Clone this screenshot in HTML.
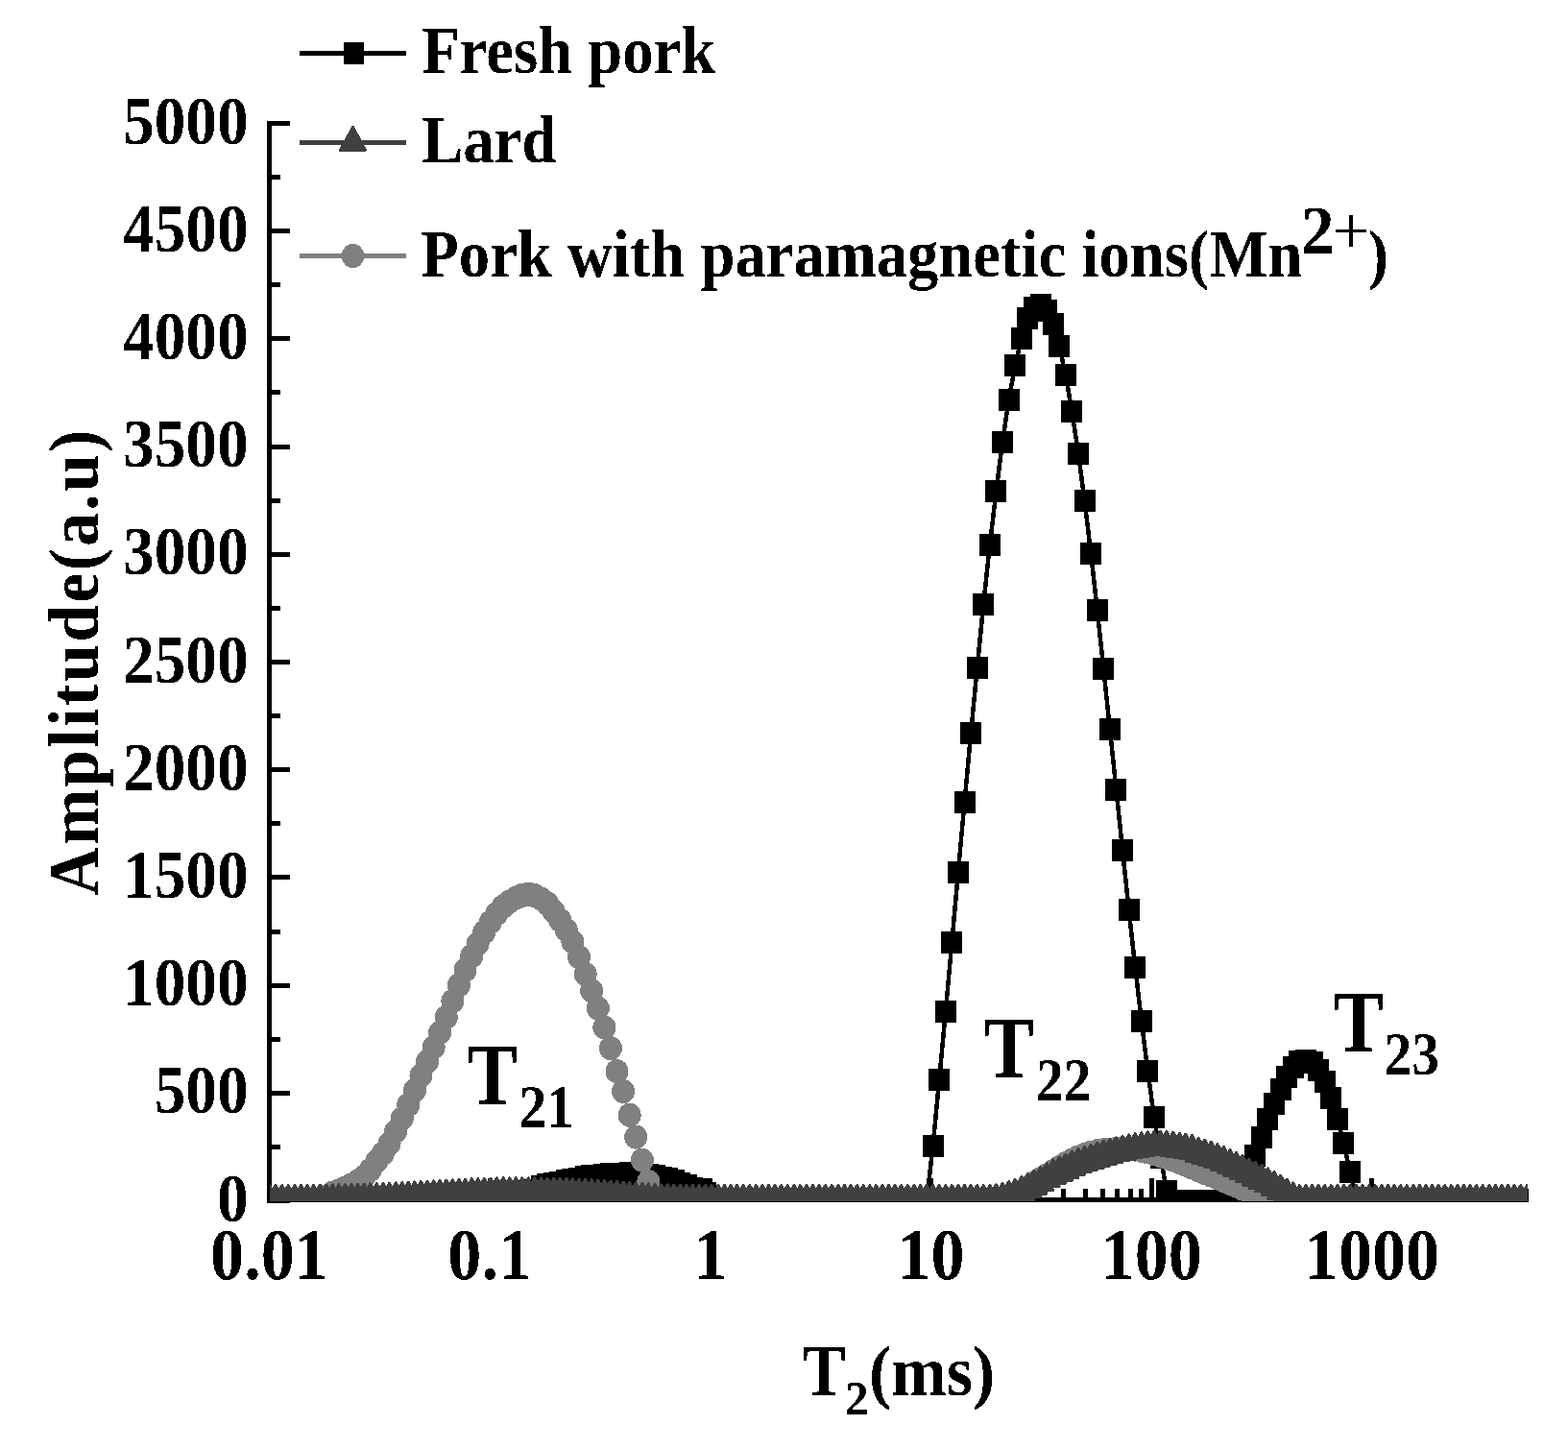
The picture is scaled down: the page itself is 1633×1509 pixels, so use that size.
<!DOCTYPE html>
<html><head><meta charset="utf-8"><title>T2 relaxation spectra</title>
<style>html,body{margin:0;padding:0;background:#fff;overflow:hidden}svg{display:block}text{font-family:"Liberation Serif",serif;font-weight:bold;fill:#000}</style></head><body>
<svg width="1633" height="1509" viewBox="0 0 1633 1509">
<rect width="1633" height="1509" fill="#fff"/>
<defs><clipPath id="cp"><rect x="281" y="0" width="1310" height="1251"/></clipPath><filter id="th" x="-5%" y="-5%" width="110%" height="110%" color-interpolation-filters="sRGB"><feComponentTransfer><feFuncA type="discrete" tableValues="0 1"/></feComponentTransfer></filter></defs>
<g fill="#000" shape-rendering="crispEdges">
<rect x="278" y="126" width="5" height="1126"/>
<rect x="278" y="1247" width="1314" height="5"/>
<rect x="278" y="126" width="24" height="5"/>
<rect x="278" y="182" width="14" height="5"/>
<rect x="278" y="238" width="24" height="5"/>
<rect x="278" y="294" width="14" height="5"/>
<rect x="278" y="350" width="24" height="5"/>
<rect x="278" y="406" width="14" height="5"/>
<rect x="278" y="463" width="24" height="5"/>
<rect x="278" y="519" width="14" height="5"/>
<rect x="278" y="575" width="24" height="5"/>
<rect x="278" y="631" width="14" height="5"/>
<rect x="278" y="687" width="24" height="5"/>
<rect x="278" y="743" width="14" height="5"/>
<rect x="278" y="799" width="24" height="5"/>
<rect x="278" y="855" width="14" height="5"/>
<rect x="278" y="911" width="24" height="5"/>
<rect x="278" y="968" width="14" height="5"/>
<rect x="278" y="1024" width="24" height="5"/>
<rect x="278" y="1080" width="14" height="5"/>
<rect x="278" y="1136" width="24" height="5"/>
<rect x="278" y="1192" width="14" height="5"/>
<rect x="278" y="1248" width="24" height="5"/>
<rect x="347" y="1238" width="5" height="14"/>
<rect x="388" y="1238" width="5" height="14"/>
<rect x="416" y="1238" width="5" height="14"/>
<rect x="439" y="1238" width="5" height="14"/>
<rect x="457" y="1238" width="5" height="14"/>
<rect x="472" y="1238" width="5" height="14"/>
<rect x="485" y="1238" width="5" height="14"/>
<rect x="497" y="1238" width="5" height="14"/>
<rect x="508" y="1227" width="5" height="25"/>
<rect x="577" y="1238" width="5" height="14"/>
<rect x="617" y="1238" width="5" height="14"/>
<rect x="646" y="1238" width="5" height="14"/>
<rect x="668" y="1238" width="5" height="14"/>
<rect x="686" y="1238" width="5" height="14"/>
<rect x="702" y="1238" width="5" height="14"/>
<rect x="715" y="1238" width="5" height="14"/>
<rect x="727" y="1238" width="5" height="14"/>
<rect x="737" y="1227" width="5" height="25"/>
<rect x="807" y="1238" width="5" height="14"/>
<rect x="847" y="1238" width="5" height="14"/>
<rect x="876" y="1238" width="5" height="14"/>
<rect x="898" y="1238" width="5" height="14"/>
<rect x="916" y="1238" width="5" height="14"/>
<rect x="932" y="1238" width="5" height="14"/>
<rect x="945" y="1238" width="5" height="14"/>
<rect x="957" y="1238" width="5" height="14"/>
<rect x="967" y="1227" width="5" height="25"/>
<rect x="1036" y="1238" width="5" height="14"/>
<rect x="1077" y="1238" width="5" height="14"/>
<rect x="1105" y="1238" width="5" height="14"/>
<rect x="1128" y="1238" width="5" height="14"/>
<rect x="1146" y="1238" width="5" height="14"/>
<rect x="1161" y="1238" width="5" height="14"/>
<rect x="1175" y="1238" width="5" height="14"/>
<rect x="1186" y="1238" width="5" height="14"/>
<rect x="1197" y="1227" width="5" height="25"/>
<rect x="1266" y="1238" width="5" height="14"/>
<rect x="1306" y="1238" width="5" height="14"/>
<rect x="1335" y="1238" width="5" height="14"/>
<rect x="1357" y="1238" width="5" height="14"/>
<rect x="1376" y="1238" width="5" height="14"/>
<rect x="1391" y="1238" width="5" height="14"/>
<rect x="1404" y="1238" width="5" height="14"/>
<rect x="1416" y="1238" width="5" height="14"/>
<rect x="1426" y="1227" width="5" height="25"/>
<rect x="1496" y="1238" width="5" height="14"/>
<rect x="1536" y="1238" width="5" height="14"/>
<rect x="1565" y="1238" width="5" height="14"/>
<rect x="1587" y="1238" width="5" height="14"/>
</g>
<g clip-path="url(#cp)" shape-rendering="crispEdges">
<polyline points="280.5,1250.5 287.08,1250.5 293.66,1250.5 300.25,1250.5 306.83,1250.5 313.41,1250.5 319.99,1250.5 326.57,1250.5 333.16,1250.5 339.74,1250.5 346.32,1250.5 352.9,1250.5 359.48,1250.5 366.07,1250.5 372.65,1250.5 379.23,1250.5 385.81,1250.5 392.39,1250.5 398.98,1250.5 405.56,1250.5 412.14,1250.5 418.72,1250.5 425.3,1250.5 431.89,1250.5 438.47,1250.5 445.05,1250.5 451.63,1250.5 458.21,1250.5 464.8,1250.5 471.38,1250.5 477.96,1250.31 484.54,1249.94 491.12,1249.43 497.71,1248.8 504.29,1248.07 510.87,1247.24 517.45,1246.33 524.03,1245.34 530.62,1244.27 537.2,1243.13 543.78,1241.91 550.36,1240.63 556.94,1239.28 563.53,1235.8 570.11,1233.69 576.69,1232.79 583.27,1231.49 589.85,1229.41 596.44,1228.8 603.02,1227.61 609.6,1225.7 616.18,1224.49 622.76,1224.2 629.35,1223.59 635.93,1222.49 642.51,1222.29 649.09,1222.29 655.67,1221.6 662.26,1221.4 668.84,1222.23 675.42,1223.57 682,1224.69 688.58,1226.49 695.17,1227.61 701.75,1229.63 708.33,1232.32 714.91,1234.57 721.49,1237.26 728.08,1238.61 734.66,1242.87 741.24,1250.5 747.82,1250.5 754.4,1250.5 760.99,1250.5 767.57,1250.5 774.15,1250.5 780.73,1250.5 787.31,1250.5 793.9,1250.5 800.48,1250.5 807.06,1250.5 813.64,1250.5 820.22,1250.5 826.81,1250.5 833.39,1250.5 839.97,1250.5 846.55,1250.5 853.13,1250.5 859.72,1250.5 866.3,1250.5 872.88,1250.5 879.46,1250.5 886.04,1250.5 892.63,1250.5 899.21,1250.5 905.79,1250.5 912.37,1250.5 918.95,1250.5 925.54,1250.5 932.12,1250.5 938.7,1250.5 945.28,1250.5 951.86,1250.5 958.45,1250.5 965.03,1250.5 971.61,1193.5 978.19,1124.5 984.77,1053.5 991.36,981.4 997.94,908 1004.52,835.4 1011.1,763.9 1017.68,695.5 1024.27,629.4 1030.85,567.5 1037.43,511.5 1044.01,460.5 1050.59,416.5 1057.18,380.6 1063.76,352.6 1070.34,331.6 1076.92,320.3 1083.5,317.5 1090.09,323.4 1096.67,337.5 1103.25,360.5 1109.83,390.6 1116.41,428.6 1123,472 1129.58,521.6 1136.16,576.5 1142.74,635.5 1149.32,696.5 1155.91,759.5 1162.49,822.4 1169.07,885.4 1175.65,947.5 1182.23,1007 1188.82,1063.5 1195.4,1115.6 1201.98,1163.5 1208.56,1205 1215.14,1240.6 1221.73,1250.5 1228.31,1250.5 1234.89,1250.5 1241.47,1250.5 1248.05,1250.5 1254.64,1250.5 1261.22,1250.5 1267.8,1250.5 1274.38,1250.5 1280.96,1250.5 1287.55,1248.5 1294.13,1241 1300.71,1226 1307.29,1203.8 1313.87,1184.6 1320.46,1165.7 1327.04,1149.6 1333.62,1134.7 1340.2,1121.5 1346.78,1111.6 1353.37,1105.4 1359.95,1104.3 1366.53,1106.6 1373.11,1114.4 1379.69,1126.5 1386.28,1143.5 1392.86,1165.7 1399.44,1190.6 1406.02,1220.4 1412.6,1247.5 1419.19,1250.5 1425.77,1250.5 1432.35,1250.5 1438.93,1250.5 1445.51,1250.5 1452.1,1250.5 1458.68,1250.5 1465.26,1250.5 1471.84,1250.5 1478.42,1250.5 1485.01,1250.5 1491.59,1250.5 1498.17,1250.5 1504.75,1250.5 1511.33,1250.5 1517.92,1250.5 1524.5,1250.5 1531.08,1250.5 1537.66,1250.5 1544.24,1250.5 1550.83,1250.5 1557.41,1250.5 1563.99,1250.5 1570.57,1250.5 1577.15,1250.5 1583.74,1250.5 1590.32,1250.5" fill="none" stroke="#000" stroke-width="4.5" stroke-linejoin="round"/>
<path d="M269.5 1239h22v23h-22zM276.08 1239h22v23h-22zM282.66 1239h22v23h-22zM289.25 1239h22v23h-22zM295.83 1239h22v23h-22zM302.41 1239h22v23h-22zM308.99 1239h22v23h-22zM315.57 1239h22v23h-22zM322.16 1239h22v23h-22zM328.74 1239h22v23h-22zM335.32 1239h22v23h-22zM341.9 1239h22v23h-22zM348.48 1239h22v23h-22zM355.07 1239h22v23h-22zM361.65 1239h22v23h-22zM368.23 1239h22v23h-22zM374.81 1239h22v23h-22zM381.39 1239h22v23h-22zM387.98 1239h22v23h-22zM394.56 1239h22v23h-22zM401.14 1239h22v23h-22zM407.72 1239h22v23h-22zM414.3 1239h22v23h-22zM420.89 1239h22v23h-22zM427.47 1239h22v23h-22zM434.05 1239h22v23h-22zM440.63 1239h22v23h-22zM447.21 1239h22v23h-22zM453.8 1239h22v23h-22zM460.38 1239h22v23h-22zM466.96 1238.81h22v23h-22zM473.54 1238.44h22v23h-22zM480.12 1237.93h22v23h-22zM486.71 1237.3h22v23h-22zM493.29 1236.57h22v23h-22zM499.87 1235.74h22v23h-22zM506.45 1234.83h22v23h-22zM513.03 1233.84h22v23h-22zM519.62 1232.77h22v23h-22zM526.2 1231.63h22v23h-22zM532.78 1230.41h22v23h-22zM539.36 1229.13h22v23h-22zM545.94 1227.78h22v23h-22zM552.53 1224.3h22v23h-22zM559.11 1222.19h22v23h-22zM565.69 1221.29h22v23h-22zM572.27 1219.99h22v23h-22zM578.85 1217.91h22v23h-22zM585.44 1217.3h22v23h-22zM592.02 1216.11h22v23h-22zM598.6 1214.2h22v23h-22zM605.18 1212.99h22v23h-22zM611.76 1212.7h22v23h-22zM618.35 1212.09h22v23h-22zM624.93 1210.99h22v23h-22zM631.51 1210.79h22v23h-22zM638.09 1210.79h22v23h-22zM644.67 1210.1h22v23h-22zM651.26 1209.9h22v23h-22zM657.84 1210.73h22v23h-22zM664.42 1212.07h22v23h-22zM671 1213.19h22v23h-22zM677.58 1214.99h22v23h-22zM684.17 1216.11h22v23h-22zM690.75 1218.13h22v23h-22zM697.33 1220.82h22v23h-22zM703.91 1223.07h22v23h-22zM710.49 1225.76h22v23h-22zM717.08 1227.11h22v23h-22zM723.66 1231.37h22v23h-22zM730.24 1239h22v23h-22zM736.82 1239h22v23h-22zM743.4 1239h22v23h-22zM749.99 1239h22v23h-22zM756.57 1239h22v23h-22zM763.15 1239h22v23h-22zM769.73 1239h22v23h-22zM776.31 1239h22v23h-22zM782.9 1239h22v23h-22zM789.48 1239h22v23h-22zM796.06 1239h22v23h-22zM802.64 1239h22v23h-22zM809.22 1239h22v23h-22zM815.81 1239h22v23h-22zM822.39 1239h22v23h-22zM828.97 1239h22v23h-22zM835.55 1239h22v23h-22zM842.13 1239h22v23h-22zM848.72 1239h22v23h-22zM855.3 1239h22v23h-22zM861.88 1239h22v23h-22zM868.46 1239h22v23h-22zM875.04 1239h22v23h-22zM881.63 1239h22v23h-22zM888.21 1239h22v23h-22zM894.79 1239h22v23h-22zM901.37 1239h22v23h-22zM907.95 1239h22v23h-22zM914.54 1239h22v23h-22zM921.12 1239h22v23h-22zM927.7 1239h22v23h-22zM934.28 1239h22v23h-22zM940.86 1239h22v23h-22zM947.45 1239h22v23h-22zM954.03 1239h22v23h-22zM960.61 1182h22v23h-22zM967.19 1113h22v23h-22zM973.77 1042h22v23h-22zM980.36 969.9h22v23h-22zM986.94 896.5h22v23h-22zM993.52 823.9h22v23h-22zM1000.1 752.4h22v23h-22zM1006.68 684h22v23h-22zM1013.27 617.9h22v23h-22zM1019.85 556h22v23h-22zM1026.43 500h22v23h-22zM1033.01 449h22v23h-22zM1039.59 405h22v23h-22zM1046.18 369.1h22v23h-22zM1052.76 341.1h22v23h-22zM1059.34 320.1h22v23h-22zM1065.92 308.8h22v23h-22zM1072.5 306h22v23h-22zM1079.09 311.9h22v23h-22zM1085.67 326h22v23h-22zM1092.25 349h22v23h-22zM1098.83 379.1h22v23h-22zM1105.41 417.1h22v23h-22zM1112 460.5h22v23h-22zM1118.58 510.1h22v23h-22zM1125.16 565h22v23h-22zM1131.74 624h22v23h-22zM1138.32 685h22v23h-22zM1144.91 748h22v23h-22zM1151.49 810.9h22v23h-22zM1158.07 873.9h22v23h-22zM1164.65 936h22v23h-22zM1171.23 995.5h22v23h-22zM1177.82 1052h22v23h-22zM1184.4 1104.1h22v23h-22zM1190.98 1152h22v23h-22zM1197.56 1193.5h22v23h-22zM1204.14 1229.1h22v23h-22zM1210.73 1239h22v23h-22zM1217.31 1239h22v23h-22zM1223.89 1239h22v23h-22zM1230.47 1239h22v23h-22zM1237.05 1239h22v23h-22zM1243.64 1239h22v23h-22zM1250.22 1239h22v23h-22zM1256.8 1239h22v23h-22zM1263.38 1239h22v23h-22zM1269.96 1239h22v23h-22zM1276.55 1237h22v23h-22zM1283.13 1229.5h22v23h-22zM1289.71 1214.5h22v23h-22zM1296.29 1192.3h22v23h-22zM1302.87 1173.1h22v23h-22zM1309.46 1154.2h22v23h-22zM1316.04 1138.1h22v23h-22zM1322.62 1123.2h22v23h-22zM1329.2 1110h22v23h-22zM1335.78 1100.1h22v23h-22zM1342.37 1093.9h22v23h-22zM1348.95 1092.8h22v23h-22zM1355.53 1095.1h22v23h-22zM1362.11 1102.9h22v23h-22zM1368.69 1115h22v23h-22zM1375.28 1132h22v23h-22zM1381.86 1154.2h22v23h-22zM1388.44 1179.1h22v23h-22zM1395.02 1208.9h22v23h-22zM1401.6 1236h22v23h-22zM1408.19 1239h22v23h-22zM1414.77 1239h22v23h-22zM1421.35 1239h22v23h-22zM1427.93 1239h22v23h-22zM1434.51 1239h22v23h-22zM1441.1 1239h22v23h-22zM1447.68 1239h22v23h-22zM1454.26 1239h22v23h-22zM1460.84 1239h22v23h-22zM1467.42 1239h22v23h-22zM1474.01 1239h22v23h-22zM1480.59 1239h22v23h-22zM1487.17 1239h22v23h-22zM1493.75 1239h22v23h-22zM1500.33 1239h22v23h-22zM1506.92 1239h22v23h-22zM1513.5 1239h22v23h-22zM1520.08 1239h22v23h-22zM1526.66 1239h22v23h-22zM1533.24 1239h22v23h-22zM1539.83 1239h22v23h-22zM1546.41 1239h22v23h-22zM1552.99 1239h22v23h-22zM1559.57 1239h22v23h-22zM1566.15 1239h22v23h-22zM1572.74 1239h22v23h-22zM1579.32 1239h22v23h-22z" fill="#000"/>
<g fill="#808080">
<ellipse cx="280.5" cy="1250.5" rx="12" ry="12.5"/>
<ellipse cx="287.08" cy="1250.5" rx="12" ry="12.5"/>
<ellipse cx="293.66" cy="1250.5" rx="12" ry="12.5"/>
<ellipse cx="300.25" cy="1250.5" rx="12" ry="12.5"/>
<ellipse cx="306.83" cy="1250.5" rx="12" ry="12.5"/>
<ellipse cx="313.41" cy="1250.5" rx="12" ry="12.5"/>
<ellipse cx="319.99" cy="1250.5" rx="12" ry="12.5"/>
<ellipse cx="326.57" cy="1250.11" rx="12" ry="12.5"/>
<ellipse cx="333.16" cy="1249.08" rx="12" ry="12.5"/>
<ellipse cx="339.74" cy="1246.05" rx="12" ry="12.5"/>
<ellipse cx="346.32" cy="1242.28" rx="12" ry="12.5"/>
<ellipse cx="352.9" cy="1239.86" rx="12" ry="12.5"/>
<ellipse cx="359.48" cy="1237.27" rx="12" ry="12.5"/>
<ellipse cx="366.07" cy="1233.9" rx="12" ry="12.5"/>
<ellipse cx="372.65" cy="1229.88" rx="12" ry="12.5"/>
<ellipse cx="379.23" cy="1225.2" rx="12" ry="12.5"/>
<ellipse cx="385.81" cy="1218.2" rx="12" ry="12.5"/>
<ellipse cx="392.39" cy="1209.08" rx="12" ry="12.5"/>
<ellipse cx="398.98" cy="1201.11" rx="12" ry="12.5"/>
<ellipse cx="405.56" cy="1190.88" rx="12" ry="12.5"/>
<ellipse cx="412.14" cy="1178.19" rx="12" ry="12.5"/>
<ellipse cx="418.72" cy="1164.84" rx="12" ry="12.5"/>
<ellipse cx="425.3" cy="1150.64" rx="12" ry="12.5"/>
<ellipse cx="431.89" cy="1135.51" rx="12" ry="12.5"/>
<ellipse cx="438.47" cy="1120.18" rx="12" ry="12.5"/>
<ellipse cx="445.05" cy="1105.49" rx="12" ry="12.5"/>
<ellipse cx="451.63" cy="1090.65" rx="12" ry="12.5"/>
<ellipse cx="458.21" cy="1075.17" rx="12" ry="12.5"/>
<ellipse cx="464.8" cy="1059.3" rx="12" ry="12.5"/>
<ellipse cx="471.38" cy="1042.73" rx="12" ry="12.5"/>
<ellipse cx="477.96" cy="1025.95" rx="12" ry="12.5"/>
<ellipse cx="484.54" cy="1010.29" rx="12" ry="12.5"/>
<ellipse cx="491.12" cy="995.92" rx="12" ry="12.5"/>
<ellipse cx="497.71" cy="982.85" rx="12" ry="12.5"/>
<ellipse cx="504.29" cy="970.8" rx="12" ry="12.5"/>
<ellipse cx="510.87" cy="960.14" rx="12" ry="12.5"/>
<ellipse cx="517.45" cy="951.51" rx="12" ry="12.5"/>
<ellipse cx="524.03" cy="944.03" rx="12" ry="12.5"/>
<ellipse cx="530.62" cy="938.9" rx="12" ry="12.5"/>
<ellipse cx="537.2" cy="935.2" rx="12" ry="12.5"/>
<ellipse cx="543.78" cy="932.35" rx="12" ry="12.5"/>
<ellipse cx="550.36" cy="931.18" rx="12" ry="12.5"/>
<ellipse cx="556.94" cy="932.6" rx="12" ry="12.5"/>
<ellipse cx="563.53" cy="935.94" rx="12" ry="12.5"/>
<ellipse cx="570.11" cy="941.06" rx="12" ry="12.5"/>
<ellipse cx="576.69" cy="949.19" rx="12" ry="12.5"/>
<ellipse cx="583.27" cy="958.24" rx="12" ry="12.5"/>
<ellipse cx="589.85" cy="968.56" rx="12" ry="12.5"/>
<ellipse cx="596.44" cy="980.82" rx="12" ry="12.5"/>
<ellipse cx="603.02" cy="996.77" rx="12" ry="12.5"/>
<ellipse cx="609.6" cy="1014.47" rx="12" ry="12.5"/>
<ellipse cx="616.18" cy="1031.75" rx="12" ry="12.5"/>
<ellipse cx="622.76" cy="1050.01" rx="12" ry="12.5"/>
<ellipse cx="629.35" cy="1069.95" rx="12" ry="12.5"/>
<ellipse cx="635.93" cy="1091.62" rx="12" ry="12.5"/>
<ellipse cx="642.51" cy="1115.67" rx="12" ry="12.5"/>
<ellipse cx="649.09" cy="1136.6" rx="12" ry="12.5"/>
<ellipse cx="655.67" cy="1161.23" rx="12" ry="12.5"/>
<ellipse cx="662.26" cy="1184.1" rx="12" ry="12.5"/>
<ellipse cx="668.84" cy="1208.17" rx="12" ry="12.5"/>
<ellipse cx="675.42" cy="1230.65" rx="12" ry="12.5"/>
<ellipse cx="682" cy="1247.14" rx="12" ry="12.5"/>
<ellipse cx="688.58" cy="1250.48" rx="12" ry="12.5"/>
<ellipse cx="695.17" cy="1250.5" rx="12" ry="12.5"/>
<ellipse cx="701.75" cy="1250.5" rx="12" ry="12.5"/>
<ellipse cx="708.33" cy="1250.5" rx="12" ry="12.5"/>
<ellipse cx="714.91" cy="1250.5" rx="12" ry="12.5"/>
<ellipse cx="721.49" cy="1250.5" rx="12" ry="12.5"/>
<ellipse cx="728.08" cy="1250.5" rx="12" ry="12.5"/>
<ellipse cx="734.66" cy="1250.5" rx="12" ry="12.5"/>
<ellipse cx="741.24" cy="1250.5" rx="12" ry="12.5"/>
<ellipse cx="747.82" cy="1250.5" rx="12" ry="12.5"/>
<ellipse cx="754.4" cy="1250.5" rx="12" ry="12.5"/>
<ellipse cx="760.99" cy="1250.5" rx="12" ry="12.5"/>
<ellipse cx="767.57" cy="1250.5" rx="12" ry="12.5"/>
<ellipse cx="774.15" cy="1250.5" rx="12" ry="12.5"/>
<ellipse cx="780.73" cy="1250.5" rx="12" ry="12.5"/>
<ellipse cx="787.31" cy="1250.5" rx="12" ry="12.5"/>
<ellipse cx="793.9" cy="1250.5" rx="12" ry="12.5"/>
<ellipse cx="800.48" cy="1250.5" rx="12" ry="12.5"/>
<ellipse cx="807.06" cy="1250.5" rx="12" ry="12.5"/>
<ellipse cx="813.64" cy="1250.5" rx="12" ry="12.5"/>
<ellipse cx="820.22" cy="1250.5" rx="12" ry="12.5"/>
<ellipse cx="826.81" cy="1250.5" rx="12" ry="12.5"/>
<ellipse cx="833.39" cy="1250.5" rx="12" ry="12.5"/>
<ellipse cx="839.97" cy="1250.5" rx="12" ry="12.5"/>
<ellipse cx="846.55" cy="1250.5" rx="12" ry="12.5"/>
<ellipse cx="853.13" cy="1250.5" rx="12" ry="12.5"/>
<ellipse cx="859.72" cy="1250.5" rx="12" ry="12.5"/>
<ellipse cx="866.3" cy="1250.5" rx="12" ry="12.5"/>
<ellipse cx="872.88" cy="1250.5" rx="12" ry="12.5"/>
<ellipse cx="879.46" cy="1250.5" rx="12" ry="12.5"/>
<ellipse cx="886.04" cy="1250.5" rx="12" ry="12.5"/>
<ellipse cx="892.63" cy="1250.5" rx="12" ry="12.5"/>
<ellipse cx="899.21" cy="1250.5" rx="12" ry="12.5"/>
<ellipse cx="905.79" cy="1250.5" rx="12" ry="12.5"/>
<ellipse cx="912.37" cy="1250.5" rx="12" ry="12.5"/>
<ellipse cx="918.95" cy="1250.5" rx="12" ry="12.5"/>
<ellipse cx="925.54" cy="1250.5" rx="12" ry="12.5"/>
<ellipse cx="932.12" cy="1250.5" rx="12" ry="12.5"/>
<ellipse cx="938.7" cy="1250.5" rx="12" ry="12.5"/>
<ellipse cx="945.28" cy="1250.5" rx="12" ry="12.5"/>
<ellipse cx="951.86" cy="1250.5" rx="12" ry="12.5"/>
<ellipse cx="958.45" cy="1250.5" rx="12" ry="12.5"/>
<ellipse cx="965.03" cy="1250.5" rx="12" ry="12.5"/>
<ellipse cx="971.61" cy="1250.5" rx="12" ry="12.5"/>
<ellipse cx="978.19" cy="1250.5" rx="12" ry="12.5"/>
<ellipse cx="984.77" cy="1250.5" rx="12" ry="12.5"/>
<ellipse cx="991.36" cy="1250.5" rx="12" ry="12.5"/>
<ellipse cx="997.94" cy="1250.5" rx="12" ry="12.5"/>
<ellipse cx="1004.52" cy="1250.5" rx="12" ry="12.5"/>
<ellipse cx="1011.1" cy="1250.5" rx="12" ry="12.5"/>
<ellipse cx="1017.68" cy="1250.5" rx="12" ry="12.5"/>
<ellipse cx="1024.27" cy="1250.5" rx="12" ry="12.5"/>
<ellipse cx="1030.85" cy="1250.5" rx="12" ry="12.5"/>
<ellipse cx="1037.43" cy="1250.37" rx="12" ry="12.5"/>
<ellipse cx="1044.01" cy="1249.3" rx="12" ry="12.5"/>
<ellipse cx="1050.59" cy="1247.64" rx="12" ry="12.5"/>
<ellipse cx="1057.18" cy="1244.8" rx="12" ry="12.5"/>
<ellipse cx="1063.76" cy="1241.15" rx="12" ry="12.5"/>
<ellipse cx="1070.34" cy="1236.81" rx="12" ry="12.5"/>
<ellipse cx="1076.92" cy="1232" rx="12" ry="12.5"/>
<ellipse cx="1083.5" cy="1227.67" rx="12" ry="12.5"/>
<ellipse cx="1090.09" cy="1223.83" rx="12" ry="12.5"/>
<ellipse cx="1096.67" cy="1219.71" rx="12" ry="12.5"/>
<ellipse cx="1103.25" cy="1215.57" rx="12" ry="12.5"/>
<ellipse cx="1109.83" cy="1211.66" rx="12" ry="12.5"/>
<ellipse cx="1116.41" cy="1208.1" rx="12" ry="12.5"/>
<ellipse cx="1123" cy="1204.91" rx="12" ry="12.5"/>
<ellipse cx="1129.58" cy="1202.28" rx="12" ry="12.5"/>
<ellipse cx="1136.16" cy="1200.25" rx="12" ry="12.5"/>
<ellipse cx="1142.74" cy="1198.79" rx="12" ry="12.5"/>
<ellipse cx="1149.32" cy="1197.78" rx="12" ry="12.5"/>
<ellipse cx="1155.91" cy="1196.98" rx="12" ry="12.5"/>
<ellipse cx="1162.49" cy="1196.39" rx="12" ry="12.5"/>
<ellipse cx="1169.07" cy="1196.03" rx="12" ry="12.5"/>
<ellipse cx="1175.65" cy="1196.16" rx="12" ry="12.5"/>
<ellipse cx="1182.23" cy="1197.09" rx="12" ry="12.5"/>
<ellipse cx="1188.82" cy="1198.24" rx="12" ry="12.5"/>
<ellipse cx="1195.4" cy="1199.8" rx="12" ry="12.5"/>
<ellipse cx="1201.98" cy="1201.58" rx="12" ry="12.5"/>
<ellipse cx="1208.56" cy="1203.49" rx="12" ry="12.5"/>
<ellipse cx="1215.14" cy="1205.61" rx="12" ry="12.5"/>
<ellipse cx="1221.73" cy="1207.91" rx="12" ry="12.5"/>
<ellipse cx="1228.31" cy="1210.43" rx="12" ry="12.5"/>
<ellipse cx="1234.89" cy="1213.15" rx="12" ry="12.5"/>
<ellipse cx="1241.47" cy="1215.9" rx="12" ry="12.5"/>
<ellipse cx="1248.05" cy="1218.71" rx="12" ry="12.5"/>
<ellipse cx="1254.64" cy="1221.5" rx="12" ry="12.5"/>
<ellipse cx="1261.22" cy="1224.11" rx="12" ry="12.5"/>
<ellipse cx="1267.8" cy="1226.68" rx="12" ry="12.5"/>
<ellipse cx="1274.38" cy="1229.42" rx="12" ry="12.5"/>
<ellipse cx="1280.96" cy="1232.29" rx="12" ry="12.5"/>
<ellipse cx="1287.55" cy="1235.16" rx="12" ry="12.5"/>
<ellipse cx="1294.13" cy="1238.02" rx="12" ry="12.5"/>
<ellipse cx="1300.71" cy="1241.06" rx="12" ry="12.5"/>
<ellipse cx="1307.29" cy="1244.36" rx="12" ry="12.5"/>
<ellipse cx="1313.87" cy="1247.18" rx="12" ry="12.5"/>
<ellipse cx="1320.46" cy="1249.24" rx="12" ry="12.5"/>
<ellipse cx="1327.04" cy="1250.3" rx="12" ry="12.5"/>
<ellipse cx="1333.62" cy="1250.5" rx="12" ry="12.5"/>
<ellipse cx="1340.2" cy="1250.5" rx="12" ry="12.5"/>
<ellipse cx="1346.78" cy="1250.5" rx="12" ry="12.5"/>
<ellipse cx="1353.37" cy="1250.5" rx="12" ry="12.5"/>
<ellipse cx="1359.95" cy="1250.5" rx="12" ry="12.5"/>
<ellipse cx="1366.53" cy="1250.5" rx="12" ry="12.5"/>
<ellipse cx="1373.11" cy="1250.5" rx="12" ry="12.5"/>
<ellipse cx="1379.69" cy="1250.5" rx="12" ry="12.5"/>
<ellipse cx="1386.28" cy="1250.5" rx="12" ry="12.5"/>
<ellipse cx="1392.86" cy="1250.5" rx="12" ry="12.5"/>
<ellipse cx="1399.44" cy="1250.5" rx="12" ry="12.5"/>
<ellipse cx="1406.02" cy="1250.5" rx="12" ry="12.5"/>
<ellipse cx="1412.6" cy="1250.5" rx="12" ry="12.5"/>
<ellipse cx="1419.19" cy="1250.5" rx="12" ry="12.5"/>
<ellipse cx="1425.77" cy="1250.5" rx="12" ry="12.5"/>
<ellipse cx="1432.35" cy="1250.5" rx="12" ry="12.5"/>
<ellipse cx="1438.93" cy="1250.5" rx="12" ry="12.5"/>
<ellipse cx="1445.51" cy="1250.5" rx="12" ry="12.5"/>
<ellipse cx="1452.1" cy="1250.5" rx="12" ry="12.5"/>
<ellipse cx="1458.68" cy="1250.5" rx="12" ry="12.5"/>
<ellipse cx="1465.26" cy="1250.5" rx="12" ry="12.5"/>
<ellipse cx="1471.84" cy="1250.5" rx="12" ry="12.5"/>
<ellipse cx="1478.42" cy="1250.5" rx="12" ry="12.5"/>
<ellipse cx="1485.01" cy="1250.5" rx="12" ry="12.5"/>
<ellipse cx="1491.59" cy="1250.5" rx="12" ry="12.5"/>
<ellipse cx="1498.17" cy="1250.5" rx="12" ry="12.5"/>
<ellipse cx="1504.75" cy="1250.5" rx="12" ry="12.5"/>
<ellipse cx="1511.33" cy="1250.5" rx="12" ry="12.5"/>
<ellipse cx="1517.92" cy="1250.5" rx="12" ry="12.5"/>
<ellipse cx="1524.5" cy="1250.5" rx="12" ry="12.5"/>
<ellipse cx="1531.08" cy="1250.5" rx="12" ry="12.5"/>
<ellipse cx="1537.66" cy="1250.5" rx="12" ry="12.5"/>
<ellipse cx="1544.24" cy="1250.5" rx="12" ry="12.5"/>
<ellipse cx="1550.83" cy="1250.5" rx="12" ry="12.5"/>
<ellipse cx="1557.41" cy="1250.5" rx="12" ry="12.5"/>
<ellipse cx="1563.99" cy="1250.5" rx="12" ry="12.5"/>
<ellipse cx="1570.57" cy="1250.5" rx="12" ry="12.5"/>
<ellipse cx="1577.15" cy="1250.5" rx="12" ry="12.5"/>
<ellipse cx="1583.74" cy="1250.5" rx="12" ry="12.5"/>
<ellipse cx="1590.32" cy="1250.5" rx="12" ry="12.5"/>
</g>
<path d="M280.5 1234.5l13 24h-26zM287.08 1234.5l13 24h-26zM293.66 1234.5l13 24h-26zM300.25 1234.5l13 24h-26zM306.83 1234.45l13 24h-26zM313.41 1234.39l13 24h-26zM319.99 1234.32l13 24h-26zM326.57 1234.24l13 24h-26zM333.16 1234.15l13 24h-26zM339.74 1234.06l13 24h-26zM346.32 1233.95l13 24h-26zM352.9 1233.82l13 24h-26zM359.48 1233.68l13 24h-26zM366.07 1233.53l13 24h-26zM372.65 1233.36l13 24h-26zM379.23 1233.18l13 24h-26zM385.81 1232.98l13 24h-26zM392.39 1232.75l13 24h-26zM398.98 1232.49l13 24h-26zM405.56 1232.22l13 24h-26zM412.14 1231.93l13 24h-26zM418.72 1231.64l13 24h-26zM425.3 1231.33l13 24h-26zM431.89 1230.98l13 24h-26zM438.47 1230.6l13 24h-26zM445.05 1230.21l13 24h-26zM451.63 1229.82l13 24h-26zM458.21 1229.45l13 24h-26zM464.8 1229.09l13 24h-26zM471.38 1228.78l13 24h-26zM477.96 1228.5l13 24h-26zM484.54 1228.21l13 24h-26zM491.12 1227.91l13 24h-26zM497.71 1227.62l13 24h-26zM504.29 1227.36l13 24h-26zM510.87 1227.15l13 24h-26zM517.45 1226.98l13 24h-26zM524.03 1226.89l13 24h-26zM530.62 1226.87l13 24h-26zM537.2 1226.88l13 24h-26zM543.78 1226.9l13 24h-26zM550.36 1226.93l13 24h-26zM556.94 1226.96l13 24h-26zM563.53 1227.01l13 24h-26zM570.11 1227.09l13 24h-26zM576.69 1227.21l13 24h-26zM583.27 1227.35l13 24h-26zM589.85 1227.56l13 24h-26zM596.44 1227.83l13 24h-26zM603.02 1228.13l13 24h-26zM609.6 1228.47l13 24h-26zM616.18 1228.84l13 24h-26zM622.76 1229.23l13 24h-26zM629.35 1229.65l13 24h-26zM635.93 1230.07l13 24h-26zM642.51 1230.53l13 24h-26zM649.09 1231.02l13 24h-26zM655.67 1231.5l13 24h-26zM662.26 1231.97l13 24h-26zM668.84 1232.45l13 24h-26zM675.42 1232.94l13 24h-26zM682 1233.39l13 24h-26zM688.58 1233.73l13 24h-26zM695.17 1233.97l13 24h-26zM701.75 1234.18l13 24h-26zM708.33 1234.36l13 24h-26zM714.91 1234.47l13 24h-26zM721.49 1234.5l13 24h-26zM728.08 1234.5l13 24h-26zM734.66 1234.5l13 24h-26zM741.24 1234.5l13 24h-26zM747.82 1234.5l13 24h-26zM754.4 1234.5l13 24h-26zM760.99 1234.5l13 24h-26zM767.57 1234.5l13 24h-26zM774.15 1234.5l13 24h-26zM780.73 1234.5l13 24h-26zM787.31 1234.5l13 24h-26zM793.9 1234.5l13 24h-26zM800.48 1234.5l13 24h-26zM807.06 1234.5l13 24h-26zM813.64 1234.5l13 24h-26zM820.22 1234.5l13 24h-26zM826.81 1234.5l13 24h-26zM833.39 1234.5l13 24h-26zM839.97 1234.5l13 24h-26zM846.55 1234.5l13 24h-26zM853.13 1234.5l13 24h-26zM859.72 1234.5l13 24h-26zM866.3 1234.5l13 24h-26zM872.88 1234.5l13 24h-26zM879.46 1234.5l13 24h-26zM886.04 1234.5l13 24h-26zM892.63 1234.5l13 24h-26zM899.21 1234.5l13 24h-26zM905.79 1234.5l13 24h-26zM912.37 1234.5l13 24h-26zM918.95 1234.5l13 24h-26zM925.54 1234.5l13 24h-26zM932.12 1234.5l13 24h-26zM938.7 1234.5l13 24h-26zM945.28 1234.5l13 24h-26zM951.86 1234.5l13 24h-26zM958.45 1234.5l13 24h-26zM965.03 1234.5l13 24h-26zM971.61 1234.5l13 24h-26zM978.19 1234.5l13 24h-26zM984.77 1234.5l13 24h-26zM991.36 1234.5l13 24h-26zM997.94 1234.5l13 24h-26zM1004.52 1234.5l13 24h-26zM1011.1 1234.5l13 24h-26zM1017.68 1234.5l13 24h-26zM1024.27 1234.5l13 24h-26zM1030.85 1234.46l13 24h-26zM1037.43 1233.77l13 24h-26zM1044.01 1232.52l13 24h-26zM1050.59 1230.61l13 24h-26zM1057.18 1228.34l13 24h-26zM1063.76 1225.69l13 24h-26zM1070.34 1222.49l13 24h-26zM1076.92 1219.08l13 24h-26zM1083.5 1215.76l13 24h-26zM1090.09 1211.78l13 24h-26zM1096.67 1208.06l13 24h-26zM1103.25 1205.07l13 24h-26zM1109.83 1202.22l13 24h-26zM1116.41 1199.27l13 24h-26zM1123 1196.58l13 24h-26zM1129.58 1194.32l13 24h-26zM1136.16 1192.23l13 24h-26zM1142.74 1190.19l13 24h-26zM1149.32 1188.27l13 24h-26zM1155.91 1186.53l13 24h-26zM1162.49 1184.89l13 24h-26zM1169.07 1183.27l13 24h-26zM1175.65 1181.84l13 24h-26zM1182.23 1180.65l13 24h-26zM1188.82 1179.69l13 24h-26zM1195.4 1178.83l13 24h-26zM1201.98 1178.4l13 24h-26zM1208.56 1178.46l13 24h-26zM1215.14 1178.62l13 24h-26zM1221.73 1179.3l13 24h-26zM1228.31 1180.35l13 24h-26zM1234.89 1181.08l13 24h-26zM1241.47 1182.31l13 24h-26zM1248.05 1185.19l13 24h-26zM1254.64 1187.16l13 24h-26zM1261.22 1189.11l13 24h-26zM1267.8 1191.55l13 24h-26zM1274.38 1194.25l13 24h-26zM1280.96 1197.14l13 24h-26zM1287.55 1200.2l13 24h-26zM1294.13 1203.45l13 24h-26zM1300.71 1206.78l13 24h-26zM1307.29 1210.04l13 24h-26zM1313.87 1213.39l13 24h-26zM1320.46 1216.98l13 24h-26zM1327.04 1220.66l13 24h-26zM1333.62 1224.28l13 24h-26zM1340.2 1228.07l13 24h-26zM1346.78 1231.95l13 24h-26zM1353.37 1234.5l13 24h-26zM1359.95 1234.5l13 24h-26zM1366.53 1234.5l13 24h-26zM1373.11 1234.5l13 24h-26zM1379.69 1234.5l13 24h-26zM1386.28 1234.5l13 24h-26zM1392.86 1234.5l13 24h-26zM1399.44 1234.5l13 24h-26zM1406.02 1234.5l13 24h-26zM1412.6 1234.5l13 24h-26zM1419.19 1234.5l13 24h-26zM1425.77 1234.5l13 24h-26zM1432.35 1234.5l13 24h-26zM1438.93 1234.5l13 24h-26zM1445.51 1234.5l13 24h-26zM1452.1 1234.5l13 24h-26zM1458.68 1234.5l13 24h-26zM1465.26 1234.5l13 24h-26zM1471.84 1234.5l13 24h-26zM1478.42 1234.5l13 24h-26zM1485.01 1234.5l13 24h-26zM1491.59 1234.5l13 24h-26zM1498.17 1234.5l13 24h-26zM1504.75 1234.5l13 24h-26zM1511.33 1234.5l13 24h-26zM1517.92 1234.5l13 24h-26zM1524.5 1234.5l13 24h-26zM1531.08 1234.5l13 24h-26zM1537.66 1234.5l13 24h-26zM1544.24 1234.5l13 24h-26zM1550.83 1234.5l13 24h-26zM1557.41 1234.5l13 24h-26zM1563.99 1234.5l13 24h-26zM1570.57 1234.5l13 24h-26zM1577.15 1234.5l13 24h-26zM1583.74 1234.5l13 24h-26zM1590.32 1234.5l13 24h-26z" fill="#404040" stroke="#404040" stroke-width="3" stroke-linejoin="round"/>
</g>
<g shape-rendering="crispEdges">
<rect x="312" y="53" width="111" height="5" fill="#000"/>
<rect x="358" y="44" width="21" height="23" fill="#000"/>
<rect x="312" y="146" width="111" height="5" fill="#404040"/>
<rect x="312" y="264" width="111" height="5" fill="#808080"/>
</g>
<path d="M367.5 132.5l13 24h-26z" fill="#404040" stroke="#404040" stroke-width="3" stroke-linejoin="round" shape-rendering="crispEdges"/>
<ellipse cx="367.5" cy="266.5" rx="11.7" ry="12.6" fill="#808080" shape-rendering="crispEdges"/>
<g filter="url(#th)">
<text transform="translate(439.2 76) scale(1 1.08)" font-size="64.7" text-anchor="start">Fresh pork</text>
<text transform="translate(439.2 169) scale(1 1.08)" font-size="64.7" text-anchor="start">Lard</text>
<text transform="translate(438.3 288) scale(1 1.08)" font-size="64.7" text-anchor="start">Pork with paramagnetic ions(Mn</text>
<text transform="translate(1355 264) scale(1 1.04)" font-size="69" text-anchor="start">2</text>
<text transform="translate(1387.8 264) scale(1 1.06)" font-size="68" style="font-weight:normal">+</text>
<text transform="translate(1424.6 288) scale(1 1.08)" font-size="64.7" text-anchor="start">)</text>
<text transform="translate(258.6 149.5) scale(1 1.085)" font-size="65.3" text-anchor="end">5000</text>
<text transform="translate(258.6 261.7) scale(1 1.085)" font-size="65.3" text-anchor="end">4500</text>
<text transform="translate(258.6 373.9) scale(1 1.085)" font-size="65.3" text-anchor="end">4000</text>
<text transform="translate(258.6 486.1) scale(1 1.085)" font-size="65.3" text-anchor="end">3500</text>
<text transform="translate(258.6 598.3) scale(1 1.085)" font-size="65.3" text-anchor="end">3000</text>
<text transform="translate(258.6 710.5) scale(1 1.085)" font-size="65.3" text-anchor="end">2500</text>
<text transform="translate(258.6 822.7) scale(1 1.085)" font-size="65.3" text-anchor="end">2000</text>
<text transform="translate(258.6 934.9) scale(1 1.085)" font-size="65.3" text-anchor="end">1500</text>
<text transform="translate(258.6 1047.1) scale(1 1.085)" font-size="65.3" text-anchor="end">1000</text>
<text transform="translate(258.6 1159.3) scale(1 1.085)" font-size="65.3" text-anchor="end">500</text>
<text transform="translate(258.6 1271.5) scale(1 1.085)" font-size="65.3" text-anchor="end">0</text>
<text transform="translate(280.5 1332.3) scale(1 1.085)" font-size="70.2" text-anchor="middle">0.01</text>
<text transform="translate(510.2 1332.3) scale(1 1.085)" font-size="70.2" text-anchor="middle">0.1</text>
<text transform="translate(739.9 1332.3) scale(1 1.085)" font-size="70.2" text-anchor="middle">1</text>
<text transform="translate(969.6 1332.3) scale(1 1.085)" font-size="70.2" text-anchor="middle">10</text>
<text transform="translate(1199.3 1332.3) scale(1 1.085)" font-size="70.2" text-anchor="middle">100</text>
<text transform="translate(1429 1332.3) scale(1 1.085)" font-size="70.2" text-anchor="middle">1000</text>
<text transform="translate(835.9 1452.8) scale(0.955 1.085)" font-size="70">T</text>
<text transform="translate(880.2 1472.9) scale(1 1.04)" font-size="49" text-anchor="start">2</text>
<text transform="translate(905 1452.8) scale(1 1.07)" font-size="69.4" text-anchor="start">(ms)</text>
<text transform="translate(102 932.6) rotate(-90) scale(0.93 1)" font-size="75" letter-spacing="2.45">Amplitude(a.u)</text>
<text transform="translate(486.7 1149.9) scale(0.95 1.115)" font-size="82">T</text>
<text transform="translate(540.6 1173.9) scale(1 1.1)" font-size="57.4" text-anchor="start">21</text>
<text transform="translate(1024.7 1122.1) scale(0.95 1.115)" font-size="82">T</text>
<text transform="translate(1079 1146) scale(1 1.1)" font-size="57.4" text-anchor="start">22</text>
<text transform="translate(1388.7 1095) scale(0.95 1.115)" font-size="82">T</text>
<text transform="translate(1441.6 1118.8) scale(1 1.1)" font-size="57.4" text-anchor="start">23</text>
</g>
</svg></body></html>
